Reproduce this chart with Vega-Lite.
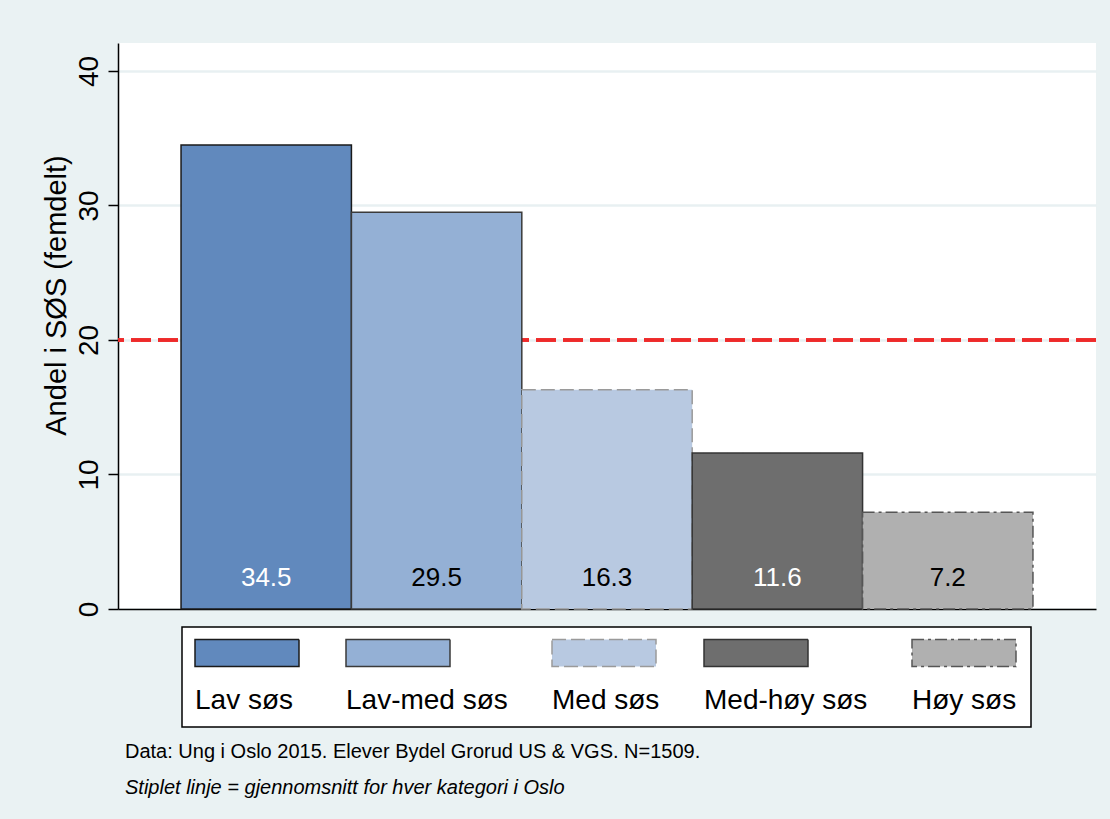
{
  "$schema": "https://vega.github.io/schema/vega-lite/v6.json",
  "width": 978,
  "height": 566,
  "autosize": {"type": "none"},
  "padding": {"left": 118, "top": 43, "right": 14, "bottom": 210},
  "background": "#EAF2F3",
  "config": {"view": {"fill": "white", "stroke": null}, "font": "Liberation Sans"},
  "title": {
    "text": "Data:  Ung i Oslo 2015. Elever Bydel Grorud US & VGS. N=1509.",
    "subtitle": "Stiplet linje = gjennomsnitt for hver kategori i Oslo",
    "orient": "bottom",
    "anchor": "start",
    "frame": "group",
    "fontSize": 20,
    "fontWeight": "normal",
    "color": "black",
    "subtitleFontSize": 20,
    "subtitleFontStyle": "italic",
    "subtitleColor": "black",
    "subtitlePadding": 16,
    "dx": 7,
    "offset": 14
  },
  "data": {"values": [
    {"kat": "Lav søs", "andel": 34.5},
    {"kat": "Lav-med søs", "andel": 29.5},
    {"kat": "Med søs", "andel": 16.3},
    {"kat": "Med-høy søs", "andel": 11.6},
    {"kat": "Høy søs", "andel": 7.2}
  ]},
  "layer": [
    {
      "mark": {"type": "rule", "color": "#EE2A2A", "strokeWidth": 3, "strokeDash": [20, 7]},
      "encoding": {"y": {"datum": 20, "type": "quantitative"}}
    },
    {
      "mark": {"type": "bar", "strokeWidth": 1.5},
      "encoding": {
        "x": {"field": "kat", "type": "nominal", "sort": null,
          "scale": {"paddingInner": 0, "paddingOuter": 0.37},
          "axis": {"title": null, "labels": false, "ticks": false, "domain": true, "domainColor": "black", "domainWidth": 1.5, "grid": false}},
        "y": {"field": "andel", "type": "quantitative",
          "scale": {"domain": [0, 42.08], "nice": false, "zero": true},
          "axis": {"values": [0, 10, 20, 30, 40], "title": "Andel i SØS (femdelt)", "titleFontSize": 29, "titleFontWeight": "normal", "titleColor": "black", "titleAngle": -90, "titleBaseline": "alphabetic", "titleAlign": "center", "titleX": -53, "titleY": 252,
            "labelAngle": -90, "labelAlign": "center", "labelBaseline": "alphabetic", "labelFontSize": 28, "labelColor": "black", "labelPadding": 11,
            "tickSize": 10, "tickColor": "black", "tickWidth": 1.5, "domainColor": "black", "domainWidth": 1.5,
            "grid": true, "gridColor": "#E8F0F2", "gridWidth": 2.5}},
        "fill": {"field": "kat", "type": "nominal", "sort": null,
          "scale": {"domain": ["Lav søs", "Lav-med søs", "Med søs", "Med-høy søs", "Høy søs"], "range": ["#6189BD", "#94B0D5", "#B8C9E1", "#6E6E6E", "#B0B0B0"]},
          "legend": {"title": null, "orient": "none", "legendX": 64, "legendY": 584, "direction": "horizontal", "columns": 5,
            "fillColor": "white", "strokeColor": "black", "padding": 12, "columnPadding": 41,
            "symbolType": "M-1,-0.26H1V0.26H-1Z", "symbolSize": 10816, "symbolStrokeWidth": 1.5, "symbolOpacity": 1,
            "labelFontSize": 28, "labelColor": "black", "labelOffset": -105, "labelLimit": 300, "labelBaseline": "alphabetic",
            "encode": {
              "symbols": {"update": {"y": {"value": 14}}},
              "labels": {"update": {"y": {"value": 70}}},
              "legend": {"update": {"strokeWidth": {"value": 1.5}}}}}},
        "stroke": {"field": "kat", "type": "nominal", "sort": null,
          "scale": {"domain": ["Lav søs", "Lav-med søs", "Med søs", "Med-høy søs", "Høy søs"], "range": ["#1A1A1A", "#3A3A3A", "#9A9A9A", "#333333", "#555555"]}},
        "strokeDash": {"field": "kat", "type": "nominal", "sort": null,
          "scale": {"domain": ["Lav søs", "Lav-med søs", "Med søs", "Med-høy søs", "Høy søs"], "range": [[1, 0], [1, 0], [14, 5], [1, 0], [12, 4, 3, 4]]}}
      }
    },
    {
      "mark": {"type": "text", "baseline": "alphabetic", "dy": -23, "fontSize": 26, "align": "center"},
      "encoding": {
        "x": {"field": "kat", "type": "nominal", "sort": null},
        "y": {"datum": 0, "type": "quantitative"},
        "text": {"field": "andel", "type": "quantitative", "format": ".1f"},
        "color": {"condition": {"test": "datum.kat === 'Lav søs' || datum.kat === 'Med-høy søs'", "value": "white"}, "value": "black"}
      }
    }
  ]
}
